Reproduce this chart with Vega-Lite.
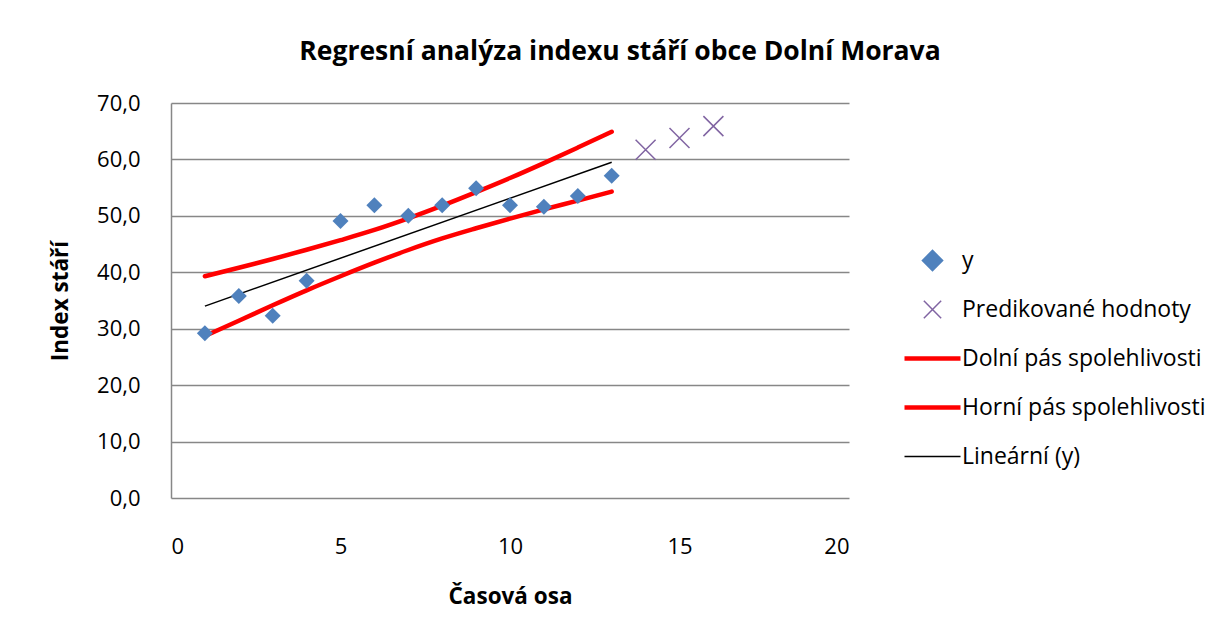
{
  "$schema": "https://vega.github.io/schema/vega-lite/v6.json",
  "width": 678,
  "height": 395,
  "autosize": {"type": "none"},
  "padding": {"left": 171, "top": 103, "right": 373, "bottom": 137},
  "background": "white",
  "config": {
    "font": "Open Sans",
    "view": {"stroke": null},
    "axis": {"labelFont": "Open Sans", "titleFont": "Open Sans", "labelColor": "black", "titleColor": "black", "labelFontSize": 22, "titleFontSize": 22.5, "titleFontWeight": "bold", "ticks": false}
  },
  "title": {"text": "Regresní analýza indexu stáří obce Dolní Morava", "font": "Open Sans", "fontSize": 26.5, "fontWeight": "bold", "color": "black", "anchor": "middle", "dx": 110, "offset": 27},
  "datasets": {
    "pts": [
      {"x": 1, "series": "y", "value": 29.2},
      {"x": 2, "series": "y", "value": 35.8},
      {"x": 3, "series": "y", "value": 32.3},
      {"x": 4, "series": "y", "value": 38.5},
      {"x": 5, "series": "y", "value": 49.1},
      {"x": 6, "series": "y", "value": 51.9},
      {"x": 7, "series": "y", "value": 50.0},
      {"x": 8, "series": "y", "value": 51.9},
      {"x": 9, "series": "y", "value": 54.9},
      {"x": 10, "series": "y", "value": 51.9},
      {"x": 11, "series": "y", "value": 51.6},
      {"x": 12, "series": "y", "value": 53.5},
      {"x": 13, "series": "y", "value": 57.1},
      {"x": 14, "series": "Predikované hodnoty", "value": 61.7},
      {"x": 15, "series": "Predikované hodnoty", "value": 63.8},
      {"x": 16, "series": "Predikované hodnoty", "value": 65.9}
    ],
    "bands": [
      {"x": 1, "series": "Dolní pás spolehlivosti", "value": 28.7},
      {"x": 2, "series": "Dolní pás spolehlivosti", "value": 31.4},
      {"x": 3, "series": "Dolní pás spolehlivosti", "value": 34.15},
      {"x": 4, "series": "Dolní pás spolehlivosti", "value": 36.8},
      {"x": 5, "series": "Dolní pás spolehlivosti", "value": 39.3},
      {"x": 6, "series": "Dolní pás spolehlivosti", "value": 41.7},
      {"x": 7, "series": "Dolní pás spolehlivosti", "value": 43.95},
      {"x": 8, "series": "Dolní pás spolehlivosti", "value": 46.0},
      {"x": 9, "series": "Dolní pás spolehlivosti", "value": 47.8},
      {"x": 10, "series": "Dolní pás spolehlivosti", "value": 49.5},
      {"x": 11, "series": "Dolní pás spolehlivosti", "value": 51.15},
      {"x": 12, "series": "Dolní pás spolehlivosti", "value": 52.7},
      {"x": 13, "series": "Dolní pás spolehlivosti", "value": 54.3},
      {"x": 1, "series": "Horní pás spolehlivosti", "value": 39.3},
      {"x": 2, "series": "Horní pás spolehlivosti", "value": 40.8},
      {"x": 3, "series": "Horní pás spolehlivosti", "value": 42.35},
      {"x": 4, "series": "Horní pás spolehlivosti", "value": 44.0},
      {"x": 5, "series": "Horní pás spolehlivosti", "value": 45.7},
      {"x": 6, "series": "Horní pás spolehlivosti", "value": 47.5},
      {"x": 7, "series": "Horní pás spolehlivosti", "value": 49.55},
      {"x": 8, "series": "Horní pás spolehlivosti", "value": 51.8},
      {"x": 9, "series": "Horní pás spolehlivosti", "value": 54.2},
      {"x": 10, "series": "Horní pás spolehlivosti", "value": 56.7},
      {"x": 11, "series": "Horní pás spolehlivosti", "value": 59.35},
      {"x": 12, "series": "Horní pás spolehlivosti", "value": 62.1},
      {"x": 13, "series": "Horní pás spolehlivosti", "value": 64.9}
    ],
    "lin": [
      {"x": 1, "series": "Lineární (y)", "value": 34.0},
      {"x": 13, "series": "Lineární (y)", "value": 59.5}
    ]
  },
  "encoding": {
    "x": {"field": "x", "type": "quantitative", "scale": {"domain": [0, 20], "nice": false, "zero": false},
      "axis": {"values": [0, 5, 10, 15, 20], "title": "Časová osa", "grid": false, "domain": false, "labelPadding": 38, "titleY": 98, "titleBaseline": "middle"}},
    "y": {"field": "value", "type": "quantitative", "scale": {"domain": [0, 70], "nice": false},
      "axis": {"values": [0, 10, 20, 30, 40, 50, 60, 70], "format": ".1f", "labelExpr": "replace(datum.label, '.', ',')", "title": "Index stáří", "grid": true, "gridColor": "#878787", "gridWidth": 1.5, "domainColor": "#878787", "domainWidth": 1.5, "labelPadding": 31, "titleX": -111, "titleBaseline": "middle"}},
    "color": {"field": "series", "type": "nominal",
      "scale": {"domain": ["y", "Predikované hodnoty", "Dolní pás spolehlivosti", "Horní pás spolehlivosti", "Lineární (y)"], "range": ["#4f81bd", "#8064a2", "#ff0000", "#ff0000", "#000000"]},
      "legend": {"title": null, "orient": "none", "legendX": 750, "legendY": 146, "labelFont": "Open Sans", "labelFontSize": 23, "labelColor": "black", "labelOffset": 18, "labelLimit": 500, "rowPadding": 19, "gridAlign": "all", "symbolSize": 3136, "symbolType": "stroke",
        "encode": {"symbols": {"update": {
          "shape": {"signal": "datum.value == 'y' ? 'diamond' : datum.value == 'Predikované hodnoty' ? 'M-1,-1L1,1M1,-1L-1,1' : 'stroke'"},
          "size": {"signal": "datum.value == 'y' ? 256 : datum.value == 'Predikované hodnoty' ? 300 : 3136"},
          "fill": {"signal": "datum.value == 'y' ? '#4f81bd' : 'transparent'"},
          "stroke": {"signal": "datum.value == 'y' ? 'transparent' : datum.value == 'Predikované hodnoty' ? '#8064a2' : datum.value == 'Lineární (y)' ? '#000000' : '#ff0000'"},
          "strokeWidth": {"signal": "datum.value == 'Lineární (y)' ? 1.5 : datum.value == 'Predikované hodnoty' ? 1.5 : 4.5"},
          "opacity": {"value": 1}
        }}}}
    }
  },
  "layer": [
    {"data": {"name": "lin"}, "mark": {"type": "line", "strokeWidth": 1.5}},
    {"data": {"name": "bands"}, "mark": {"type": "line", "strokeWidth": 4.5, "interpolate": "monotone", "strokeCap": "round"}},
    {"data": {"name": "pts"}, "transform": [{"filter": "datum.series == 'y'"}], "mark": {"type": "point", "shape": "diamond", "filled": true, "opacity": 1, "size": 256}},
    {"data": {"name": "pts"}, "transform": [{"filter": "datum.series != 'y'"}], "mark": {"type": "point", "shape": "M-1,-1L1,1M1,-1L-1,1", "filled": false, "opacity": 1, "size": 400, "strokeWidth": 1.5}}
  ]
}
